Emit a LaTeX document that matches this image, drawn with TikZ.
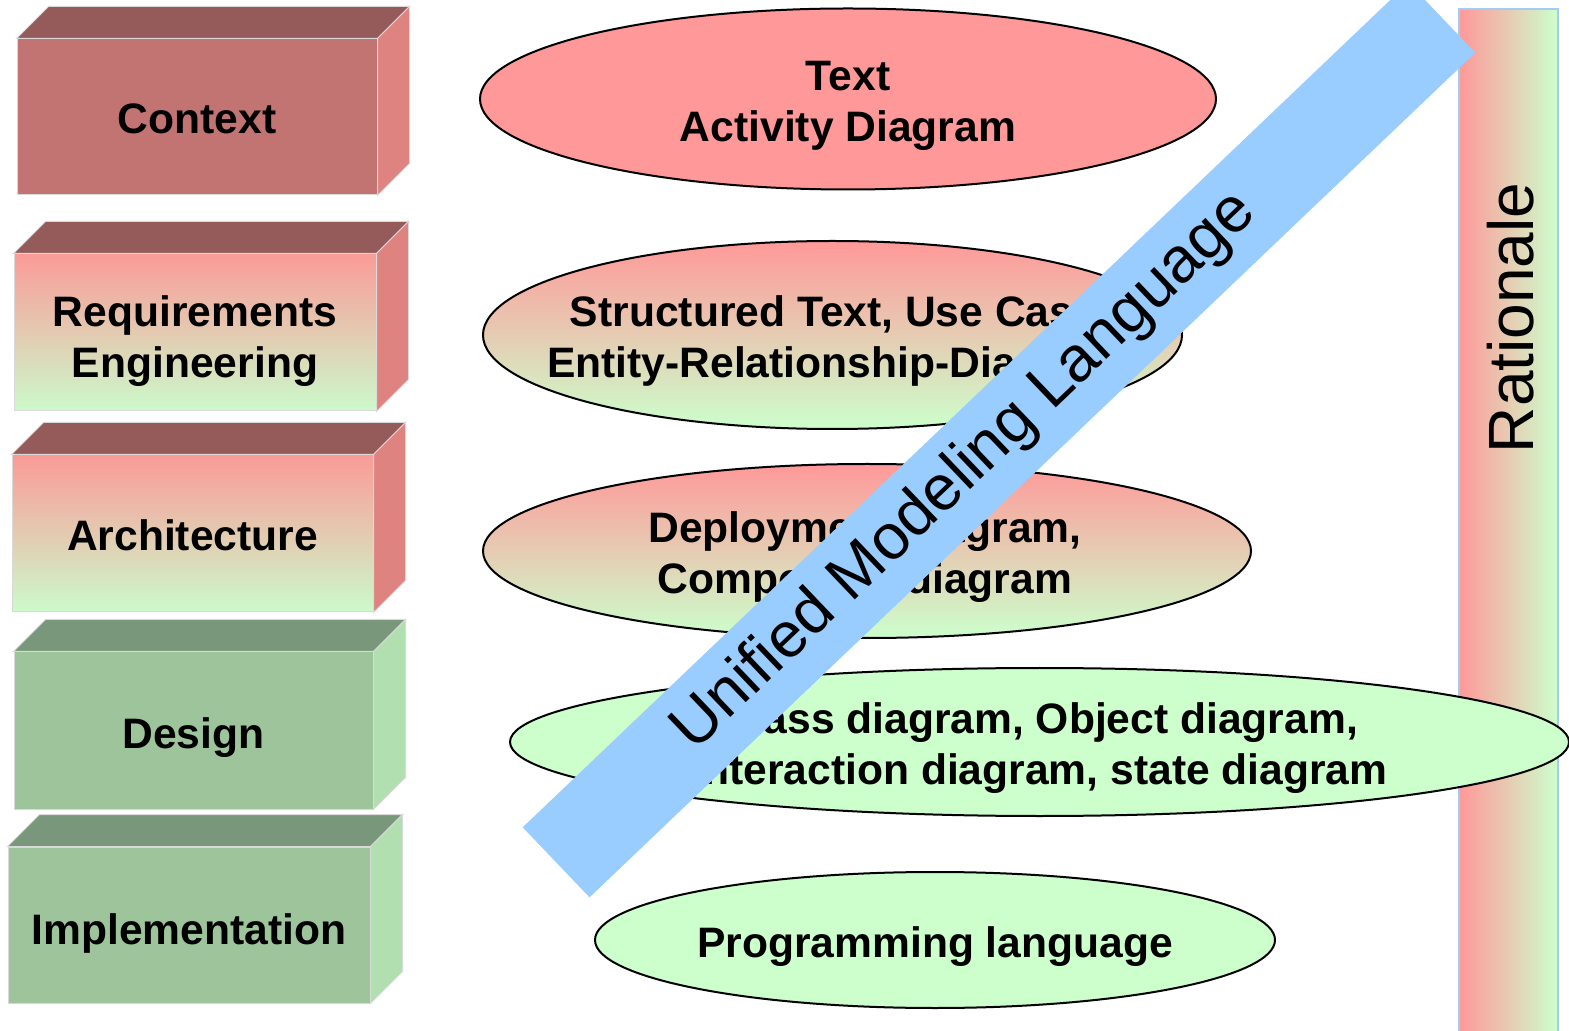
\documentclass[tikz,border=0pt]{standalone}
\usepackage{fontspec}
\setmainfont{Liberation Sans}
\usetikzlibrary{shapes.geometric}

\definecolor{rosy}{HTML}{FF9999}
\definecolor{mint}{HTML}{CCFFCC}
\definecolor{rosyfront}{HTML}{FA9B97}
\definecolor{mintfront}{HTML}{CCFACB}
\definecolor{ctxfront}{HTML}{C27472}
\definecolor{redtop}{HTML}{945B5A}
\definecolor{redside}{HTML}{DF8381}
\definecolor{grnfront}{HTML}{9DC49B}
\definecolor{grntop}{HTML}{79977A}
\definecolor{grnside}{HTML}{B1DFB0}
\definecolor{umlblue}{HTML}{99CCFF}
\definecolor{barline}{HTML}{A6CBF2}

\newcommand\lyrfont{\fontsize{21.3}{25.5}\selectfont\bfseries}
\newcommand\bigfont{\fontsize{32}{38}\selectfont}

\begin{document}
\begin{tikzpicture}[x=0.5pt,y=-0.5pt,
  face/.style={draw=black!15, line width=0.5pt},
  front/.style={face, rectangle, inner sep=0pt},
  lyrlabel/.style={font=\lyrfont, align=center, inner sep=0pt},
  oval/.style={ellipse, draw=black, line width=1pt, inner sep=0pt},
  ovallabel/.style={font=\lyrfont, align=center, inner sep=0pt},
  redgrad/.style={top color=rosyfront, bottom color=mintfront},
]
\useasboundingbox (0,0) rectangle (1569,1031);

% ---- layer boxes (front face + top face + right face)
\node[front, fill=ctxfront, minimum width=180pt, minimum height=78pt] (ctx) at (197,117) {};
\path[face, fill=redtop] (ctx.north west) -- ++(32,-32) -- ([shift={(32,-32)}]ctx.north east) -- (ctx.north east) -- cycle;
\path[face, fill=redside] (ctx.north east) -- ++(32,-32) -- ([shift={(32,-32)}]ctx.south east) -- (ctx.south east) -- cycle;
\node[lyrlabel, yshift=-1pt] (ctxlabel) at (ctx.center) {Context};

\node[front, redgrad, minimum width=181pt, minimum height=78.5pt] (req) at (195,332.5) {};
\path[face, fill=redtop] (req.north west) -- ++(32,-32) -- ([shift={(32,-32)}]req.north east) -- (req.north east) -- cycle;
\path[face, fill=redside] (req.north east) -- ++(32,-32) -- ([shift={(32,-32)}]req.south east) -- (req.south east) -- cycle;
\node[lyrlabel, yshift=-4.5pt] (reqlabel) at (req.center) {Requirements\\Engineering};

\node[front, redgrad, minimum width=180.5pt, minimum height=78.5pt] (arch) at (192.5,533.5) {};
\path[face, fill=redtop] (arch.north west) -- ++(32,-32) -- ([shift={(32,-32)}]arch.north east) -- (arch.north east) -- cycle;
\path[face, fill=redside] (arch.north east) -- ++(32,-32) -- ([shift={(32,-32)}]arch.south east) -- (arch.south east) -- cycle;
\node[lyrlabel, yshift=-1pt] (archlabel) at (arch.center) {Architecture};

\node[front, fill=grnfront, minimum width=179.5pt, minimum height=78.5pt] (des) at (193.5,730.5) {};
\path[face, fill=grntop] (des.north west) -- ++(32,-32) -- ([shift={(32,-32)}]des.north east) -- (des.north east) -- cycle;
\path[face, fill=grnside] (des.north east) -- ++(32,-32) -- ([shift={(32,-32)}]des.south east) -- (des.south east) -- cycle;
\node[lyrlabel, yshift=-3.5pt] (deslabel) at (des.center) {Design};

\node[front, fill=grnfront, minimum width=181pt, minimum height=78pt] (impl) at (189,925) {};
\path[face, fill=grntop] (impl.north west) -- ++(32,-32) -- ([shift={(32,-32)}]impl.north east) -- (impl.north east) -- cycle;
\path[face, fill=grnside] (impl.north east) -- ++(32,-32) -- ([shift={(32,-32)}]impl.south east) -- (impl.south east) -- cycle;
\node[lyrlabel, yshift=-4pt] (impllabel) at (impl.center) {Implementation};

% ---- rationale bar
\node[rectangle, draw=barline, line width=0.7pt, left color=rosy, right color=mint,
      minimum width=49.5pt, minimum height=518pt, inner sep=0pt] (ratbar) at (1508.5,527) {};
\node[rotate=90, anchor=base, font=\bigfont, inner sep=0pt] (rattext) at (1533,318) {Rationale};

% ---- notations
\node[oval, fill=rosy, minimum width=368pt, minimum height=90.5pt] (ovA) at (848,99) {};
\node[ovallabel, yshift=-3.5pt] (ovAtext) at (ovA.center) {Text\\Activity Diagram};

\node[oval, top color=rosy, bottom color=mint, minimum width=349.5pt, minimum height=94pt] (ovB) at (832.5,335) {};
\node[ovallabel, yshift=-3pt, xshift=0.5pt] (ovBtext) at (ovB.center) {Structured Text, Use Case\\Entity-Relationship-Diagram};

\node[oval, top color=rosy, bottom color=mint, minimum width=384pt, minimum height=87pt] (ovC) at (867,551) {};
\node[ovallabel, yshift=-3pt, xshift=-1pt] (ovCtext) at (ovC.center) {Deployment diagram,\\Component diagram};

\node[oval, fill=mint, minimum width=529.5pt, minimum height=74pt] (ovD) at (1039.5,742) {};
\node[ovallabel, yshift=-3pt] (ovDtext) at (ovD.center) {Class diagram, Object diagram,\\Interaction diagram, state diagram};

\node[oval, fill=mint, minimum width=340pt, minimum height=68pt] (ovE) at (935,940) {};
\node[ovallabel, yshift=-3.5pt] (ovEtext) at (ovE.center) {Programming language};

% ---- UML banner across the notations
\node[rectangle, rotate=43.64, fill=umlblue, minimum width=612pt, minimum height=48.4pt, inner sep=0pt] (banner) at (999,440) {};
\node[rotate=43.64, font=\bigfont, inner sep=0pt] (bannertext) at (965,472) {Unified Modeling Language};
\end{tikzpicture}
\end{document}
